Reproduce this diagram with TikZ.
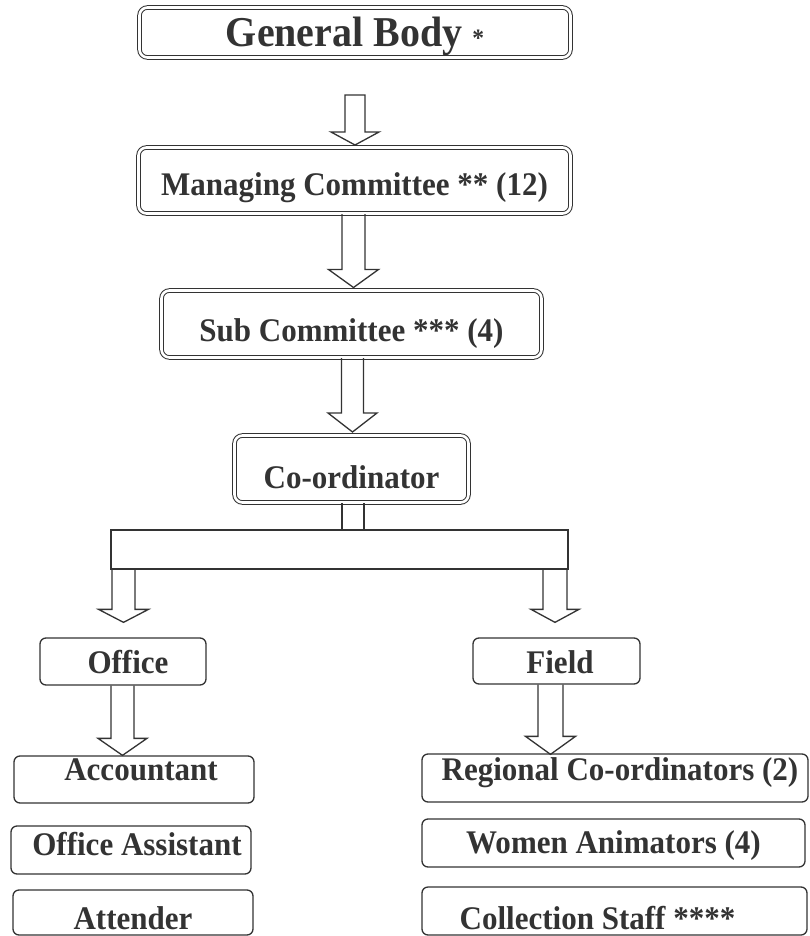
\documentclass[tikz,border=0pt]{standalone}
\usepackage{fontspec}
\setmainfont{Liberation Serif}[FakeStretch=0.94]
\usetikzlibrary{calc}
\definecolor{ink}{gray}{0.2}
\tikzset{
  dbox/.style={draw=ink, line width=1pt, double=white, double distance=2.6pt,
    rounded corners=8pt, inner sep=0pt, font=\fontsize{33}{33}\selectfont\bfseries, text=ink},
  sbox/.style={draw=ink, line width=1.3pt, rounded corners=6pt, inner sep=0pt,
    font=\fontsize{33}{33}\selectfont\bfseries, text=ink},
  arrowline/.style={draw=ink, line width=1.3pt, line join=miter},
  th/.style 2 args={text height=#1pt, text depth=#2pt}
}
% #2 top, #3 tip, #4 shaft half width, #5 head half width, #6 head length
\newcommand\blockarrow[6][]{%
  \coordinate (ba-t) at (#2 -| #3);
  \draw[arrowline] ($(ba-t)+(-#4,0)$) -- ($(#3)+(-#4,-#6)$) -- ($(#3)+(-#5,-#6)$) -- (#3)
    -- ($(#3)+(#5,-#6)$) -- ($(#3)+(#4,-#6)$) -- ($(ba-t)+(#4,0)$) #1;
}
\begin{document}
\begin{tikzpicture}[x=1pt,y=-1pt]
\useasboundingbox (0,0) rectangle (809,936);
\fill[white] (0,0) rectangle (809,936);

% top chain
\node[dbox, minimum width=431, minimum height=50, th={29}{0},
  font=\fontsize{42.5}{42.5}\selectfont\bfseries] (gb) at (355,32.5)
  {General Body {\fontsize{25}{25}\selectfont *}};
\node[dbox, minimum width=432, minimum height=66, th={29}{0}] (mc) at (354.5,180.5)
  {Managing Committee ** (12)};
\node[dbox, minimum width=380, minimum height=67, th={34}{0}] (sc) at (351.5,324)
  {Sub Committee *** (4)};
\node[dbox, minimum width=234, minimum height=67, th={38}{0}] (co) at (351.5,469)
  {Co-ordinator};

% distribution bar
\node[draw=ink, line width=1.3pt, minimum width=457, minimum height=39, inner sep=0pt] (bar) at (339.5,549.5) {};

% second level
\node[sbox, minimum width=166, minimum height=47, th={23}{0}] (office) at (123,661.5)
  {\hspace*{10pt}Office};
\node[sbox, minimum width=167, minimum height=46, th={24}{0}] (field) at (556.5,661)
  {\hspace*{7pt}Field};

% third level, left
\node[sbox, minimum width=240, minimum height=47, th={22}{21}] (acc) at (134,779.5)
  {\hspace*{14pt}Accountant};
\node[sbox, minimum width=240, minimum height=48, th={22}{12}] (oa) at (131,850)
  {\hspace*{12pt}Office Assistant};
\node[sbox, minimum width=240, minimum height=45, th={33}{0}] (att) at (133,912.5)
  {Attender};

% third level, right
\node[sbox, minimum width=386, minimum height=48, th={22}{18}] (reg) at (615,778)
  {\hspace*{10pt}Regional Co-ordinators (2)};
\node[sbox, minimum width=383, minimum height=48, th={22}{2}] (wa) at (613.5,843)
  {Women Animators (4)};
\node[sbox, minimum width=385, minimum height=48, th={36}{0}] (cs) at (614.5,911)
  {Collection Staff ****\hspace*{34pt}};

% arrows
\coordinate (a1top) at ($(gb.south)+(0,37)$);
\coordinate (a1tip) at ($(mc.north)+(0.5,-2)$);
\blockarrow[-- cycle]{a1top}{a1tip}{10}{24}{13}

\coordinate (a2tip) at ($(sc.north)+(2,-2.5)$);
\blockarrow{mc.south}{a2tip}{11.5}{25}{18}

\coordinate (a3tip) at ($(co.north)+(1,-3)$);
\blockarrow{sc.south}{a3tip}{11}{24.5}{19}

% stem into bar
\coordinate (stL) at ($(co.south)+(-9.5,0)$);
\coordinate (stR) at ($(co.south)+(12.5,0)$);
\draw[arrowline] (stL) -- (stL |- bar.north);
\draw[arrowline] (stR) -- (stR |- bar.north);

% branches
\coordinate (bltip) at ($(office.north)+(0.5,-15)$);
\blockarrow{bar.south}{bltip}{11.5}{25}{13}
\coordinate (brtip) at ($(field.north)+(-1.5,-15)$);
\blockarrow{bar.south}{brtip}{12}{24}{13}

% office -> accountant, field -> regional
\coordinate (oltip) at ($(acc.north -| office.south)+(-0.5,0)$);
\blockarrow{office.south}{oltip}{11.5}{24.5}{17}
\coordinate (frtip) at ($(reg.north -| field.south)+(-6,1)$);
\blockarrow{field.south}{frtip}{12.5}{25}{18}
\end{tikzpicture}
\end{document}
